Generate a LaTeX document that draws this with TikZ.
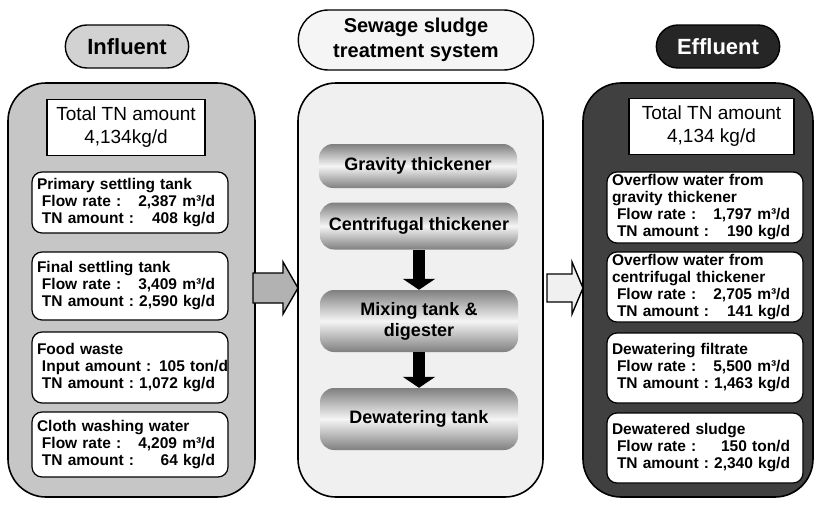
\documentclass[tikz,border=0pt]{standalone}
\usepackage{fontspec}
\setmainfont{Liberation Sans}
\usetikzlibrary{positioning,shapes.misc,arrows.meta}

\tikzset{
  pill/.style={rounded rectangle, draw, line width=1.4pt, minimum height=43pt,
    font=\bfseries\fontsize{22}{24}\selectfont},
  panel/.style={draw, line width=1.6pt, rounded corners=38pt},
  totalbox/.style={draw, fill=white, line width=1.2pt, minimum width=158pt,
    minimum height=56pt, align=center, font=\fontsize{19}{23}\selectfont},
  infobox/.style={draw, fill=white, line width=1.2pt, rounded corners=10pt,
    text width=186pt, inner xsep=5pt, inner ysep=1pt, align=left,
    font=\bfseries\fontsize{15.5}{17}\selectfont},
  stagebar/.style={rounded corners=14pt, minimum width=198pt, shade,
    top color=black!50, bottom color=black!50, middle color=black!4,
    font=\bfseries\fontsize{18}{21}\selectfont, align=center},
  flowarrow/.style={draw, line width=1.4pt, line join=miter},
  steparrow/.style={line width=12pt, -{Triangle[width=32pt,length=11pt]}},
}
\newcommand{\datarow}[2]{\makebox[178pt][l]{\hspace*{5pt}#1\hspace{\fill}#2}}

\begin{document}
\begin{tikzpicture}[x=1pt,y=-1pt]
  \useasboundingbox (0,0) rectangle (819,506);

  % headers
  \node[pill, fill=gray!35, minimum width=130pt] (inlabel) at (127,46.5) {Influent};
  \node[pill, fill=gray!8, minimum width=242pt, minimum height=60pt, align=center,
    font=\bfseries\fontsize{20}{25}\selectfont] (syslabel) at (416,40) {Sewage sludge\\treatment system};
  \node[pill, fill=black!85, text=white, minimum width=130pt] (outlabel) at (718,46.5) {Effluent};

  % panels
  \node[panel, fill=gray!45, minimum width=247pt, minimum height=414pt] (inpanel) at (131.5,290) {};
  \node[panel, fill=gray!12, minimum width=245pt, minimum height=414pt] (syspanel) at (420.5,290) {};
  \node[panel, fill=black!75, minimum width=230pt, minimum height=414pt] (outpanel) at (698,290) {};

  % influent
  \node[totalbox] (intotal) at (126,127.5) {Total TN amount\\4,134kg/d};
  \node[infobox, minimum height=61pt] (prim) at (130,202.5) {Primary settling tank\\
    \datarow{Flow rate :}{2,387 m³/d}\\ \datarow{TN amount :}{408 kg/d}};
  \node[infobox, minimum height=68pt] (final) at (130,286) {Final settling tank\\
    \datarow{Flow rate :}{3,409 m³/d}\\ \datarow{TN amount :}{2,590 kg/d}};
  \node[infobox, minimum height=71pt] (food) at (130,367.5) {Food waste\\
    \datarow{Input amount : }{105 ton/d}\\ \datarow{TN amount :}{1,072 kg/d}};
  \node[infobox, minimum height=65pt] (cloth) at (130,444.5) {Cloth washing water\\
    \datarow{Flow rate :}{4,209 m³/d}\\ \datarow{TN amount :}{64 kg/d}};

  % treatment system
  \node[stagebar, minimum height=44pt] (grav) at (418,166) {Gravity thickener};
  \node[stagebar, minimum height=47pt] (cent) at (419,226) {Centrifugal thickener};
  \node[stagebar, minimum height=62pt] (mix) at (419,321) {Mixing tank \&\\digester};
  \node[stagebar, minimum height=62pt] (dew) at (419,419) {Dewatering tank};
  \draw[steparrow] (cent.south) -- (mix.north);
  \draw[steparrow] (mix.south) -- (dew.north);

  % effluent
  \node[totalbox, minimum width=165pt] (outtotal) at (711.5,126.5) {Total TN amount\\4,134 kg/d};
  \node[infobox, minimum height=71pt] (ovgrav) at (705,207.5) {Overflow water from\\gravity thickener\\
    \datarow{Flow rate :}{1,797 m³/d}\\ \datarow{TN amount :}{190 kg/d}};
  \node[infobox, minimum height=70pt] (ovcent) at (705,287) {Overflow water from\\centrifugal thickener\\
    \datarow{Flow rate :}{2,705 m³/d}\\ \datarow{TN amount :}{141 kg/d}};
  \node[infobox, minimum height=70pt] (filtrate) at (705,368) {Dewatering filtrate\\
    \datarow{Flow rate :}{5,500 m³/d}\\ \datarow{TN amount :}{1,463 kg/d}};
  \node[infobox, minimum height=70pt] (cake) at (705,448) {Dewatered sludge\\
    \datarow{Flow rate :}{150 ton/d}\\ \datarow{TN amount :}{2,340 kg/d}};

  % flow between panels
  \coordinate (inflow) at (253,288);
  \coordinate (outflow) at (547,288);
  \draw[flowarrow, fill=gray!60] (inflow) ++(0,-15) -- ++(30,0) -- ++(0,-11) -- ++(15,26)
    -- ++(-15,26) -- ++(0,-11) -- ++(-30,0) -- cycle;
  \draw[flowarrow, fill=gray!12] (outflow) ++(0,-14) -- ++(25,0) -- ++(0,-12) -- ++(11,26)
    -- ++(-11,26) -- ++(0,-12) -- ++(-25,0) -- cycle;
\end{tikzpicture}
\end{document}
